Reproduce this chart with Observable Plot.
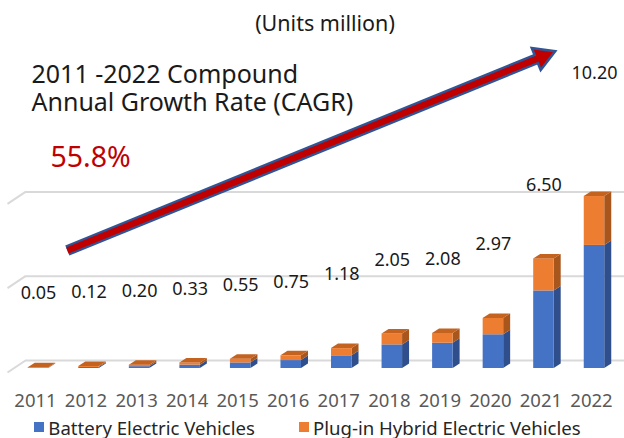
<!DOCTYPE html>
<html>
<head>
<meta charset="utf-8">
<script src="https://cdn.jsdelivr.net/npm/d3@7"></script>
<script src="https://cdn.jsdelivr.net/npm/@observablehq/plot@0.6"></script>
<style>
  html, body { margin: 0; padding: 0; background: #fff; }
  body { font-family: "Noto Sans", "Open Sans", sans-serif; width: 624px; height: 438px; overflow: hidden; }
  #chart svg { display: block; }
  .legend { display: flex; justify-content: center; gap: 44px; height: 24px; align-items: center; font-size: 18.6px; color: #262626; position: relative; top: 1px; padding-right: 9px; }
  .legend .item { display: flex; align-items: center; gap: 4px; white-space: nowrap; }
  .legend .sw { width: 10px; height: 10px; display: inline-block; }
</style>
</head>
<body>
<div id="chart"></div>
<div class="legend" id="legend"></div>
<script>
// ---------- data ----------
const years  = [2011, 2012, 2013, 2014, 2015, 2016, 2017, 2018, 2019, 2020, 2021, 2022];
const bev    = [0.02, 0.06, 0.11, 0.20, 0.33, 0.47, 0.75, 1.40, 1.50, 2.00, 4.60, 7.30];
const phev   = [0.03, 0.06, 0.09, 0.13, 0.22, 0.28, 0.43, 0.65, 0.58, 0.97, 1.90, 2.90];
const totals = [0.05, 0.12, 0.20, 0.33, 0.55, 0.75, 1.18, 2.05, 2.08, 2.97, 6.50, 10.20];
const gridValues = [0, 5, 10];
const seriesNames  = ["Battery Electric Vehicles", "Plug-in Hybrid Electric Vehicles"];
const seriesColors = ["#4472C4", "#ED7D31"];
const sideColors   = ["#2F4F8C", "#A9561D"];
const topColor     = "#C4621F";
const unitText   = "(Units million)";
const titleLines = ["2011 -2022 Compound", "Annual Growth Rate (CAGR)"];
const cagrText   = "55.8%";
// CAGR arrow annotation, in data units (year, million units)
const arrowFrom = { x: 2011.63, y: 7.0 };
const arrowTo   = { x: 2021.27, y: 18.8 };

// ---------- scale geometry ----------
const W = 624, H = 414;
const X0 = 35, X1 = 591;          // pixel position of first / last year
const Y0 = 368, KY = 16.86;       // baseline pixel, pixels per million
const KX = (X1 - X0) / (years.length - 1);
const depthX = 7 / KX, depthY = 4.5 / KY;   // 3D depth in data units
const barOff = 3 / KX, barHalf = 10.25 / KX;
const gridBack = 8;               // back-wall offset in px

const rows = years.map((year, i) => ({ year, bev: bev[i], phev: phev[i], total: totals[i] }));

const fronts = rows.flatMap(r => {
  const x1 = r.year + barOff - barHalf, x2 = r.year + barOff + barHalf;
  return [
    { x1, x2, y1: 0, y2: r.bev, s: 0 },
    { x1, x2, y1: r.bev, y2: r.bev + r.phev, s: 1 }
  ];
});
const sides = fronts.flatMap((f, k) => [
  { x: f.x2, y1: f.y1, y2: f.y2, key: k, s: f.s },
  { x: f.x2 + depthX, y1: f.y1 + depthY, y2: f.y2 + depthY, key: k, s: f.s }
]);
const tops = rows.flatMap((r, k) => {
  const x1 = r.year + barOff - barHalf, x2 = r.year + barOff + barHalf, t = r.bev + r.phev;
  return [
    { x: x1, y1: t, y2: t, key: k },
    { x: x1 + depthX, y1: t, y2: t + depthY, key: k },
    { x: x2, y1: t, y2: t + depthY, key: k },
    { x: x2 + depthX, y1: t + depthY, y2: t + depthY, key: k }
  ];
});

// arrow geometry (pixel direction)
const dxp = (arrowTo.x - arrowFrom.x) * KX, dyp = (arrowTo.y - arrowFrom.y) * KY;
const L = Math.hypot(dxp, dyp), ux = dxp / L, uy = dyp / L;
const back = (px) => ({ x: arrowTo.x - px * ux / KX, y: arrowTo.y - px * uy / KY });
const headC = back(13), redEnd = back(15.5), blueEnd = back(17.5);
const angle = 90 - Math.atan2(dyp, dxp) * 180 / Math.PI;

const fmt = d3.format(".2f");
const xLeftGrid = years[0] - 10 / KX, xDiag = years[0] - 28 / KX, xRight = years[0] + (W - X0) / KX;
const font = "'Noto Sans', 'Open Sans', sans-serif";

const plot = Plot.plot({
  width: W, height: H,
  marginTop: 0, marginBottom: H - Y0, marginLeft: 0, marginRight: 0,
  style: { fontFamily: font, background: "#fff" },
  x: { type: "linear", domain: [years[0], years[years.length - 1]], range: [X0, X1] },
  y: { domain: [0, 10], range: [Y0, Y0 - 10 * KY], axis: null },
  marks: [
    // back-wall gridlines with floor diagonal
    Plot.ruleY(gridValues, { x1: xLeftGrid, x2: xRight, dy: -gridBack, stroke: "#D9D9D9", strokeWidth: 2 }),
    Plot.link(gridValues, { x1: xLeftGrid, x2: xDiag, y1: d => d, y2: d => d - 12 / KY, dy: -gridBack, stroke: "#D9D9D9", strokeWidth: 2 }),
    // 3D bars
    Plot.areaY(sides, { x: "x", y1: "y1", y2: "y2", z: "key", fill: d => sideColors[d.s] }),
    Plot.rectY(fronts, { x1: "x1", x2: "x2", y1: "y1", y2: "y2", fill: d => seriesColors[d.s] }),
    Plot.areaY(tops, { x: "x", y1: "y1", y2: "y2", z: "key", fill: topColor }),
    // x axis
    Plot.axisX(years, { tickSize: 0, tickPadding: 25, fontSize: 18.5, fill: "#595959", tickFormat: d => `${d}`, anchor: "bottom" }),
    // total labels
    Plot.text(rows.slice(0, -1), { x: d => d.year + barOff, y: "total", text: d => fmt(d.total), dy: -74, fontSize: 18, fill: "#1a1a1a" }),
    Plot.text(rows.slice(-1), { x: d => d.year + barOff, y: "total", text: d => fmt(d.total), dy: -123, fontSize: 18, fill: "#1a1a1a" }),
    // CAGR arrow
    Plot.link([0], { x1: arrowFrom.x, y1: arrowFrom.y, x2: blueEnd.x, y2: blueEnd.y, stroke: "#2F5597", strokeWidth: 11, strokeLinecap: "butt" }),
    Plot.dot([0], { x: headC.x, y: headC.y, symbol: "triangle", r: 8.8, rotate: angle, fill: "#C00000", stroke: "#2F5597", strokeWidth: 2.5, strokeLinejoin: "miter" }),
    Plot.link([0], { x1: arrowFrom.x, y1: arrowFrom.y, x2: redEnd.x, y2: redEnd.y, stroke: "#C00000", strokeWidth: 6.5, strokeLinecap: "butt" }),
    // annotation texts
    Plot.text([unitText], { frameAnchor: "top", text: d => d, dx: 12.5, dy: 15, lineAnchor: "top", fontSize: 21.5, fill: "#1a1a1a" }),
    Plot.text([titleLines[0]], { frameAnchor: "top-left", text: d => d, dx: 31, dy: 65, lineAnchor: "top", textAnchor: "start", fontSize: 25, fill: "#1a1a1a" }),
    Plot.text([titleLines[1]], { frameAnchor: "top-left", text: d => d, dx: 31, dy: 93, lineAnchor: "top", textAnchor: "start", fontSize: 25, fill: "#1a1a1a" }),
    Plot.text([cagrText], { frameAnchor: "top-left", text: d => d, dx: 50, dy: 146, lineAnchor: "top", textAnchor: "start", fontSize: 28.5, fill: "#C00000" })
  ]
});
document.getElementById("chart").appendChild(plot);

// legend
const legend = document.getElementById("legend");
seriesNames.forEach((name, i) => {
  const item = document.createElement("span");
  item.className = "item";
  const sw = document.createElement("span");
  sw.className = "sw";
  sw.style.background = seriesColors[i];
  item.appendChild(sw);
  item.appendChild(document.createTextNode(name));
  legend.appendChild(item);
});
</script>
</body>
</html>
